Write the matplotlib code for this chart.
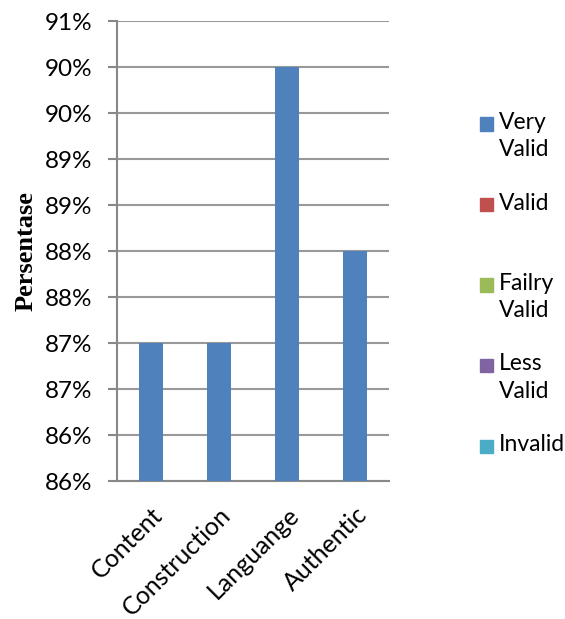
import matplotlib.pyplot as plt
from matplotlib.patches import Rectangle

# data
categories = ["Content", "Construction", "Languange", "Authentic"]
very_valid = [87.5, 87.5, 90.5, 88.5]
series_names = ["Very\nValid", "Valid", "Failry\nValid", "Less\nValid", "Invalid"]
series_colors = ["#4F81BD", "#C0504D", "#9BBB59", "#8064A2", "#4BACC6"]
y_ticks = [86.0, 86.5, 87.0, 87.5, 88.0, 88.5, 89.0, 89.5, 90.0, 90.5, 91.0]
y_labels = ["86%", "86%", "87%", "87%", "88%", "88%", "89%", "89%", "90%", "90%", "91%"]

plt.rcParams['font.family'] = ['Lato', 'DejaVu Sans']

fig = plt.figure(figsize=(5.65, 6.19), dpi=100)
W, H = 565, 619
ax = fig.add_axes([117 / W, 1 - 481 / H, 272 / W, 460 / H])

x = range(len(categories))
ax.bar(x, very_valid, width=0.35, color=series_colors[0], zorder=3)

ax.set_xlim(-0.5, len(categories) - 0.5)
ax.set_ylim(86, 91)
ax.set_yticks(y_ticks)
ax.set_yticklabels(y_labels, fontsize=17.5)
ax.set_xticks(list(x))
ax.set_xticklabels(categories, fontsize=18, rotation=45, ha='right',
                   rotation_mode='anchor')
ax.tick_params(axis='x', length=0, pad=16)
ax.tick_params(axis='y', length=6.5, width=1.5, color='#888888', pad=11)

ax.grid(axis='y', color='#999999', linewidth=1.5, zorder=0)
for s in ['top', 'right']:
    ax.spines[s].set_visible(False)
for s in ['left', 'bottom']:
    ax.spines[s].set_color('#888888')
    ax.spines[s].set_linewidth(1.5)

fig.text(26 / W, 1 - 251 / H, "Persentase", rotation=90, ha='center', va='center',
         fontsize=19, fontweight='bold', family='Liberation Serif')

# legend drawn by hand to keep Excel-like spacing
for i, (name, col) in enumerate(zip(series_names, series_colors)):
    yc = 124 + i * 80.5
    fig.add_artist(Rectangle((480 / W, 1 - (yc + 6.5) / H), 13 / W, 13 / H,
                             transform=fig.transFigure, color=col))
    fig.text(499 / W, 1 - (yc - 12) / H, name, ha='left', va='top',
             fontsize=16.5, linespacing=1.38)

fig.savefig("out.png", dpi=100)
